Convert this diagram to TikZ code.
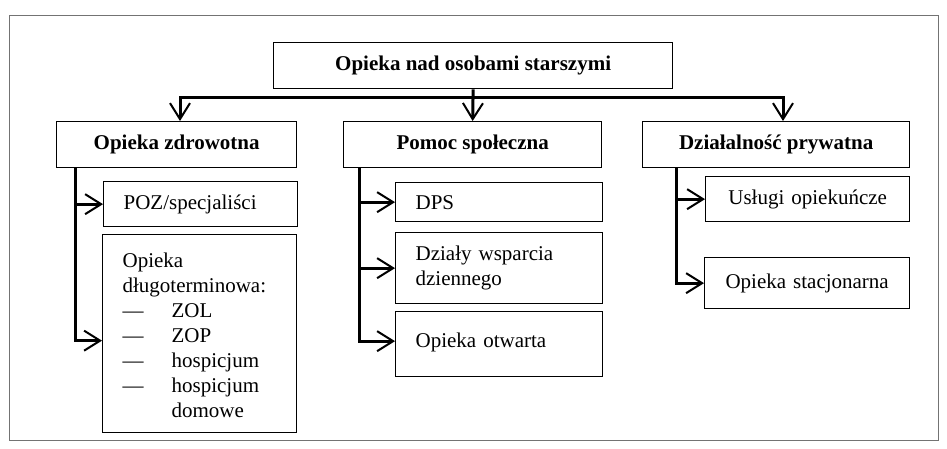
\documentclass[tikz,border=0pt]{standalone}
\usepackage{fontspec}
\setmainfont{Liberation Serif}
\usetikzlibrary{arrows.meta}

\newcommand{\fsz}{\fontsize{21}{25}\selectfont}
\newcommand{\dashitem}[1]{\makebox[49pt][l]{---}#1}

\tikzset{
  box/.style={draw=black, line width=1.3pt, anchor=north west, inner xsep=20pt, inner ysep=0pt, align=left, font=\fsz},
  head/.style={draw=black, line width=1.3pt, anchor=north west, inner sep=0pt, font=\fsz\bfseries},
  tip/.style={Straight Barb[length=16pt,width=20pt,line width=2pt 0]},
  link/.style={line width=3pt, -{Straight Barb[length=16pt,width=20pt,line width=2pt 0]}},
  twoway/.style={line width=3pt, {Straight Barb[length=16pt,width=20pt,line width=2pt 0]}-{Straight Barb[length=16pt,width=20pt,line width=2pt 0]}},
}

\begin{document}
\begin{tikzpicture}[x=1pt,y=-1pt]
  \useasboundingbox (0,0) rectangle (947,448);
  \draw[black!55, line width=0.8pt] (9,15) rectangle (938,440);

  \node[head, minimum width=399pt, minimum height=46pt] (top) at (273,42) {Opieka nad osobami starszymi};

  \node[head, minimum width=240pt, minimum height=46pt] (zdr) at (56,121) {Opieka zdrowotna};
  \node[head, minimum width=258pt, minimum height=46pt] (pom) at (343,121) {Pomoc społeczna};
  \node[head, minimum width=267pt, minimum height=46pt] (dzi) at (642,121) {Działalność prywatna};

  \node[box, text width=154pt, minimum height=45pt] (poz) at (103,181) {POZ/specjaliści};
  \node[box, text width=154pt, text height=33pt, text depth=165pt] (dlg) at (102,234)
    {Opieka\\długoterminowa:\\\dashitem{ZOL}\\\dashitem{ZOP}\\\dashitem{hospicjum}\\\dashitem{hospicjum}\\\hspace*{49pt}domowe};

  \node[box, text width=167pt, minimum height=39pt] (dps) at (395,182) {DPS};
  \node[box, text width=167pt, minimum height=71pt] (dwd) at (395,232) {Działy wsparcia\\dziennego};
  \node[box, text width=167pt, text height=36pt, text depth=29pt] (otw) at (395,311) {Opieka otwarta};

  \node[box, inner xsep=17pt, text width=170pt, align=center, minimum height=45pt] (usl) at (705,176) {Usługi opiekuńcze};
  \node[box, inner xsep=17pt, text width=171pt, align=center, minimum height=51pt] (sta) at (704,257) {Opieka stacjonarna};

  \coordinate (hl) at (180,97);
  \coordinate (hr) at (783,97);
  \coordinate (zv) at (75,0);
  \coordinate (pv) at (359,0);
  \coordinate (dv) at (676,0);

  \draw[twoway] (zdr.north -| hl) -- (hl) -- (hr) -- (dzi.north -| hr);
  \draw[link] (top.south) -- (pom.north);

  \draw[link] (zdr.south -| zv) |- ([yshift=-7pt]dlg.west);
  \draw[link] (zv |- poz.west) -- (poz.west);

  \draw[link] (pom.south -| pv) |- ([yshift=3pt]otw.west);
  \draw[link] (pv |- dps.west) -- (dps.west);
  \draw[link] (pv |- dwd.west) -- (dwd.west);

  \draw[link] (dzi.south -| dv) |- (sta.west);
  \draw[link] (dv |- usl.west) -- (usl.west);
\end{tikzpicture}
\end{document}
